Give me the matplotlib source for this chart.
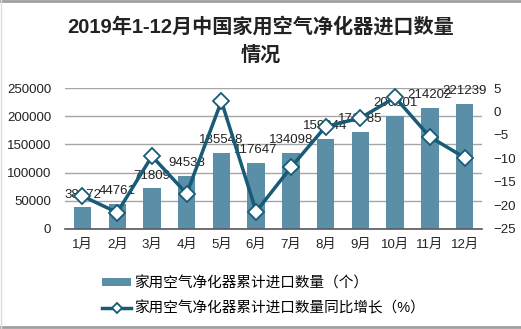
import matplotlib
matplotlib.use('Agg')
import matplotlib.pyplot as plt
from matplotlib.lines import Line2D

plt.rcParams['font.family'] = ['Liberation Sans', 'Noto Sans CJK SC', 'DejaVu Sans']

# monthly cumulative imports and year-on-year growth
months = ['1月', '2月', '3月', '4月', '5月', '6月', '7月', '8月', '9月', '10月', '11月', '12月']
imports = [38172, 44761, 71809, 94538, 135548, 117647, 134098, 159044, 171985, 200801, 214202, 221239]
growth = [-18.0, -21.5, -9.5, -17.5, 2.2, -21.3, -11.9, -3.2, -1.4, 3.0, -5.4, -9.8]

bar_color = '#5a8fa7'
line_color = '#175b76'

fig = plt.figure(figsize=(5.21, 3.29), dpi=100)
ax = fig.add_axes([0.125, 0.304, 0.8, 0.4285])
x = list(range(len(months)))

bars = ax.bar(x, imports, width=0.5, color=bar_color, zorder=2,
              label='家用空气净化器累计进口数量（个）')
for xi, v in zip(x, imports):
    ax.annotate(str(v), (xi, v), xytext=(0, 5), textcoords='offset points',
                ha='center', va='bottom', fontsize=9.5, color='#222222', zorder=3)

ax.set_xlim(-0.5, len(months) - 0.5)
ax.set_ylim(0, 250000)
ax.set_yticks(range(0, 250001, 50000))
ax.set_xticks(x)
ax.set_xticklabels(months)
ax.yaxis.grid(True, color='#a6a6a6', linewidth=1, zorder=0)
ax.set_axisbelow(True)
for s in ['top', 'left', 'right']:
    ax.spines[s].set_visible(False)
ax.spines['bottom'].set_color('#595959')
ax.spines['bottom'].set_linewidth(1.2)
ax.tick_params(length=0, labelsize=9.5, colors='#222222')
ax.tick_params(axis='x', pad=7)
ax.tick_params(axis='y', pad=10)

ax2 = ax.twinx()
ax2.plot(x, growth, color=line_color, linewidth=2.5, marker='D', markersize=8,
         markerfacecolor='white', markeredgecolor=line_color, markeredgewidth=1.3,
         label='家用空气净化器累计进口数量同比增长（%）', zorder=4)
ax2.set_ylim(-25, 5)
ax2.set_yticks(range(-25, 6, 5))
for s in ax2.spines.values():
    s.set_visible(False)
ax2.tick_params(length=0, labelsize=9.5, colors='#222222', pad=8)

fig.suptitle('2019年1-12月中国家用空气净化器进口数量\n情况', x=0.5, y=0.95,
             fontsize=14.5, fontweight='bold', color='#222222', linespacing=1.6)

h1, l1 = ax.get_legend_handles_labels()
h2, l2 = ax2.get_legend_handles_labels()
fig.legend(h1 + h2, l1 + l2, loc='upper left', bbox_to_anchor=(0.185, 0.178),
           frameon=False, fontsize=10.5, handlelength=2.0, handleheight=0.5,
           handletextpad=0.2, labelspacing=0.75, borderaxespad=0, markerscale=0.6)

# thin frame around the figure
fig.add_artist(Line2D([0, 1], [0.997, 0.997], transform=fig.transFigure, color='#a0a0a0', linewidth=2))
fig.add_artist(Line2D([0, 1], [0.005, 0.005], transform=fig.transFigure, color='#a0a0a0', linewidth=2))
fig.add_artist(Line2D([0.001, 0.001], [0, 1], transform=fig.transFigure, color='#dddddd', linewidth=1))

fig.savefig('out.png', dpi=100)
